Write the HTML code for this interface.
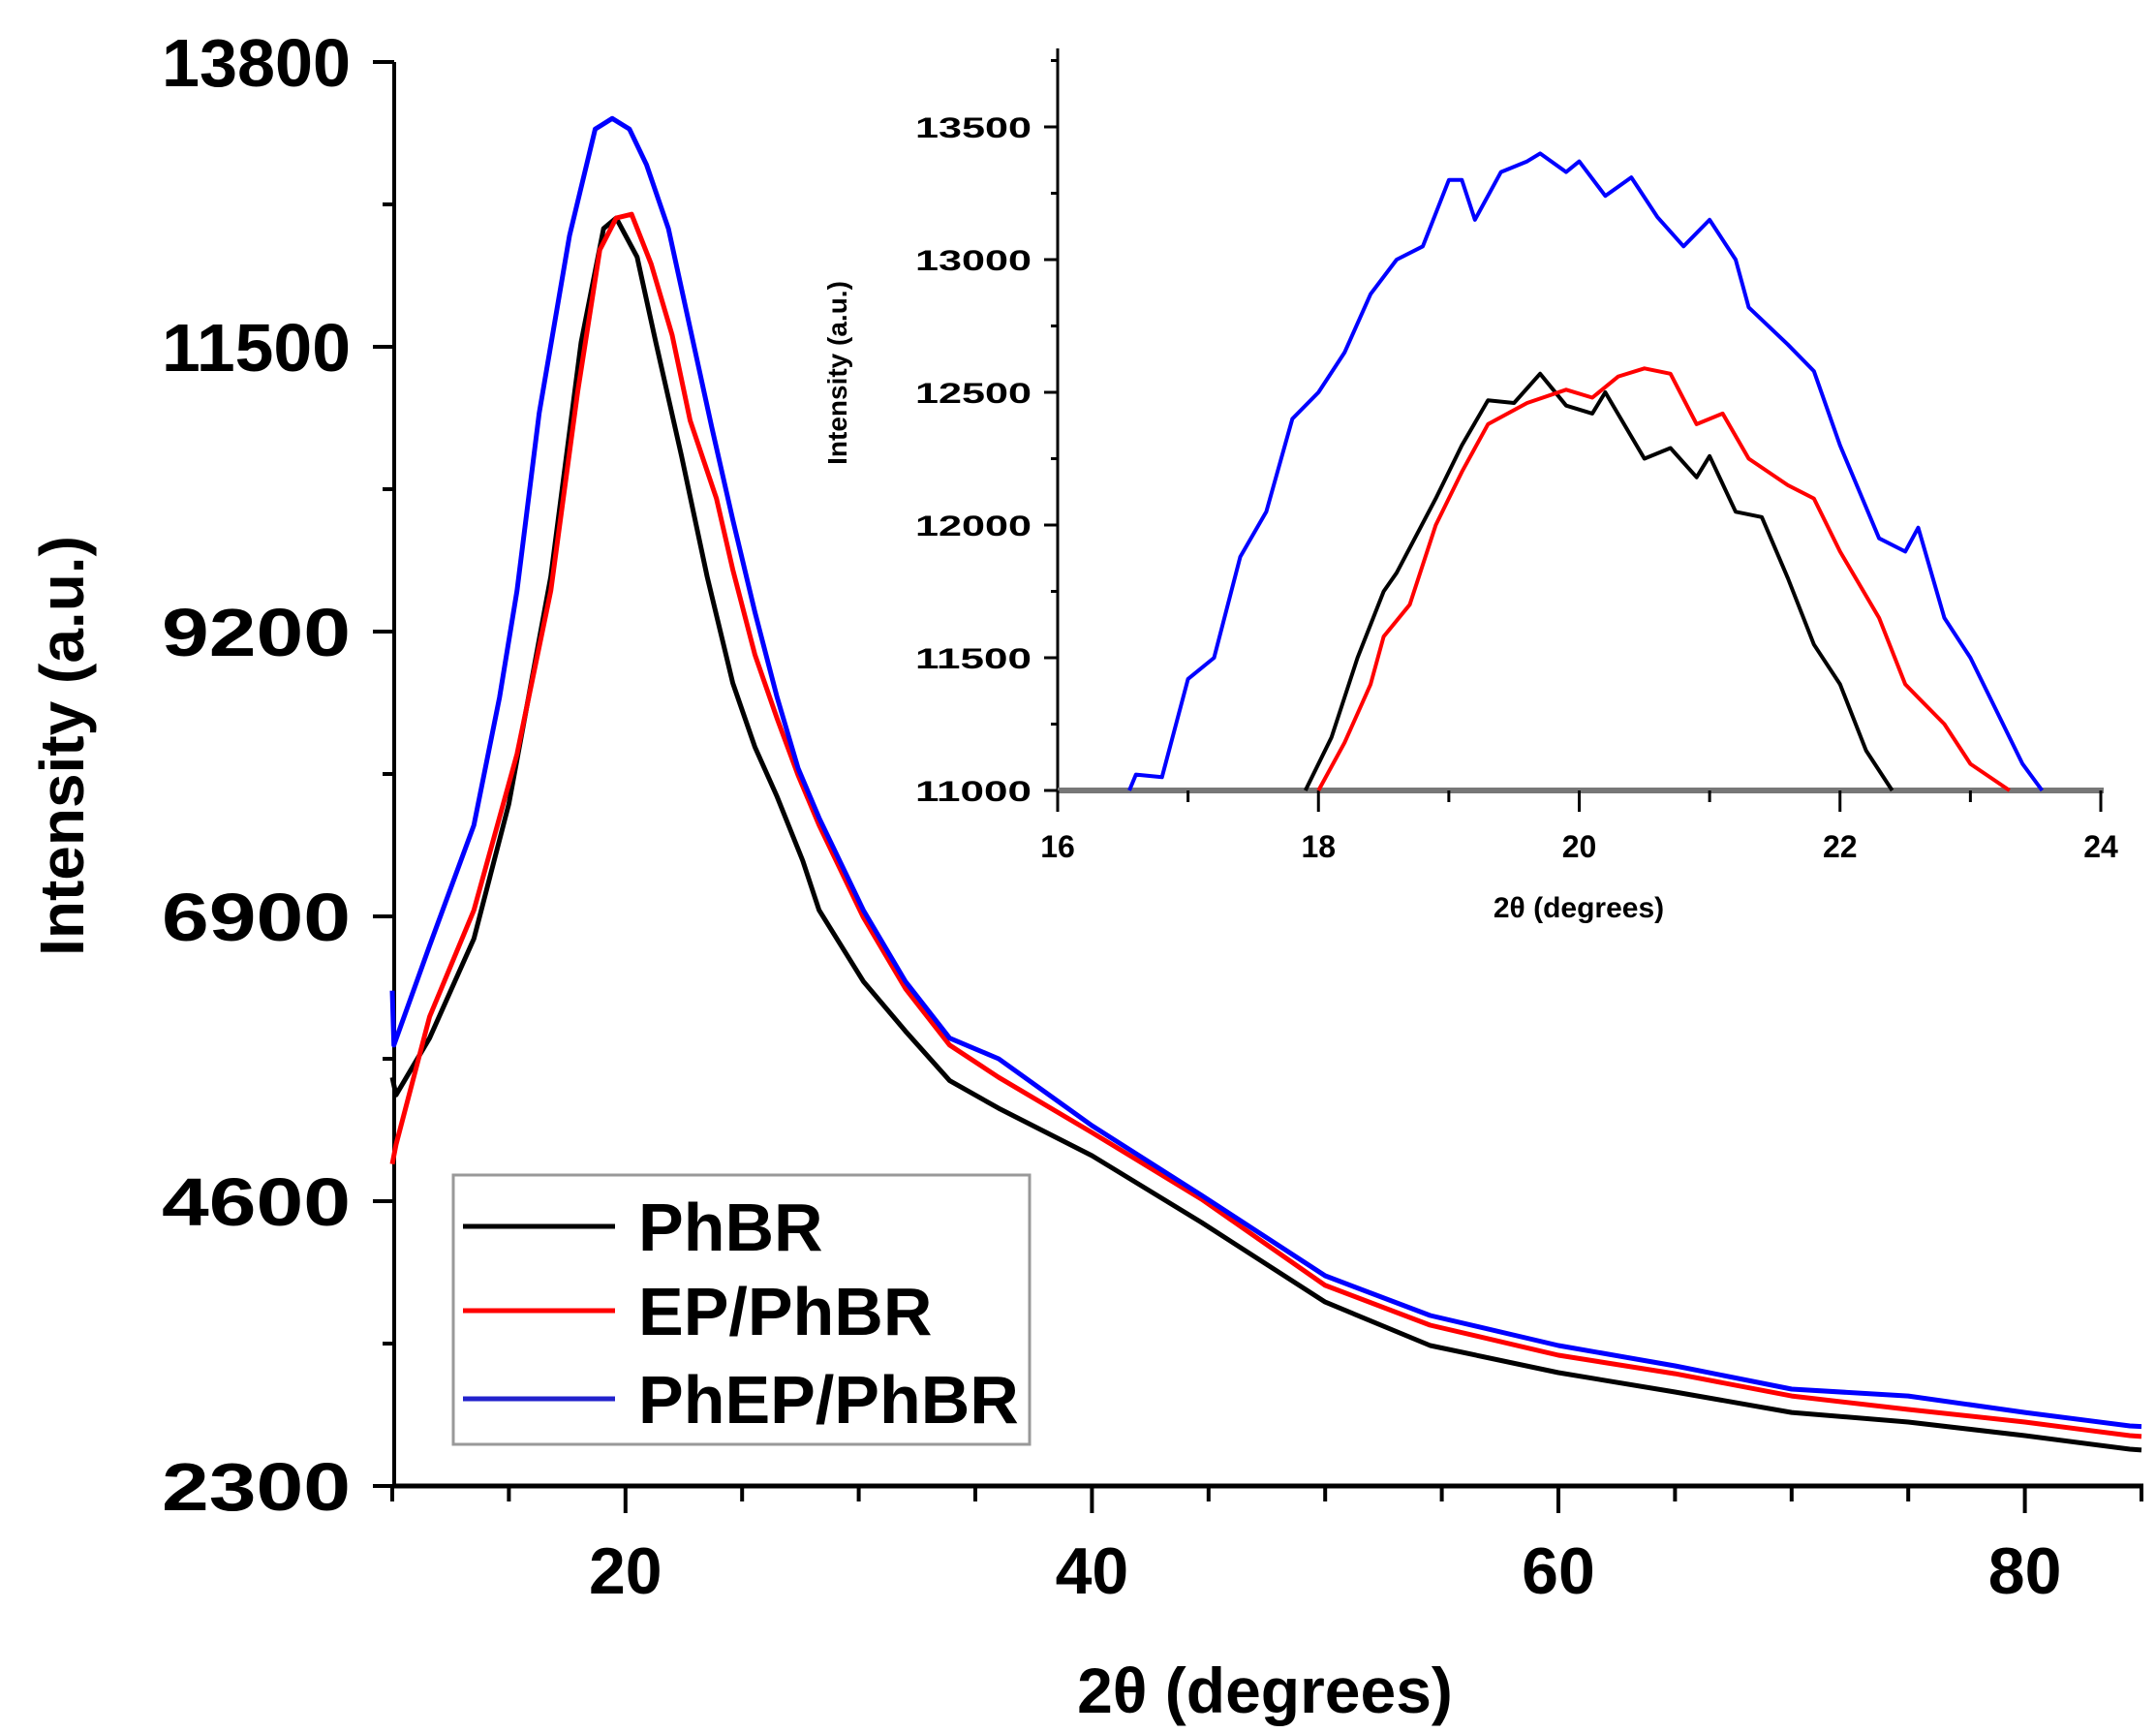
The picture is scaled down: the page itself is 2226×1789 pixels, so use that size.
<!DOCTYPE html>
<html><head><meta charset="utf-8"><style>
html,body{margin:0;padding:0;background:#fff;}
svg{display:block;font-family:"Liberation Sans",Arial,sans-serif;font-weight:bold;}
</style></head><body>
<svg id="chart" width="2226" height="1789" viewBox="0 0 2226 1789" xmlns="http://www.w3.org/2000/svg">
<g id="main"></g>
<g id="inset"></g>
<g id="legend">
<rect x="468" y="1213" width="595" height="278" fill="#fff" stroke="#999" stroke-width="3"/>
<line x1="478" y1="1266" x2="635" y2="1266" stroke="#000" stroke-width="5"/>
<text x="659" y="1291" font-size="70">PhBR</text>
<line x1="478" y1="1353" x2="635" y2="1353" stroke="#f00" stroke-width="5"/>
<text x="659" y="1378" font-size="70">EP/PhBR</text>
<line x1="478" y1="1444" x2="635" y2="1444" stroke="#22c" stroke-width="5"/>
<text x="659" y="1469" font-size="70">PhEP/PhBR</text>
</g>
</svg>
<script>
const mainYTicks=[2300,4600,6900,9200,11500,13800];
const mainXTicks=[20,40,60,80];
const phbrX=[10,10.16,11.6,13.5,15.0,16.8,18.1,19.06,19.6,20.5,21.3,22.4,23.5,24.6,25.55,26.5,27.6,28.3,30.2,32.0,33.9,36,40,44.7,50,54.5,60,65,70,75,80,84.5,85];
const phbrY=[5600,5458,5917,6720,7810,9644,11537,12455,12540,12225,11537,10620,9644,8784,8268,7867,7350,6950,6375,5974,5573,5350,4968,4428,3786,3434,3215,3059,2894,2816,2707,2597,2590];
const epX=[10,10.16,11.6,13.5,15.35,16.8,17.95,18.9,19.6,20.26,21.1,22.0,22.77,23.9,24.6,25.55,26.5,27.4,28.3,30.2,32.0,33.9,36,40,44.7,50,54.5,60,65,70,75,80,84.5,85];
const epY=[4900,5057,6089,6950,8211,9530,11135,12283,12540,12570,12168,11594,10906,10275,9700,9014,8498,8040,7637,6892,6318,5860,5600,5155,4616,3920,3599,3356,3207,3027,2918,2816,2707,2700];
const phepX=[10,10.07,11.6,13.5,14.6,15.35,16.3,17.6,18.7,19.43,20.17,20.9,21.84,22.77,23.7,24.6,25.55,26.5,27.4,28.3,30.2,32.0,33.9,36,40,44.7,50,54.5,60,65,70,75,80,84.5,85];
const phepY=[6300,5860,6662,7637,8670,9530,10964,12397,13258,13344,13258,12970,12455,11652,10849,10103,9358,8670,8096,7695,6950,6375,5917,5750,5210,4647,3998,3677,3434,3270,3082,3027,2894,2785,2780];
const insetYTicks=[11000,11500,12000,12500,13000,13500];
const insetXTicks=[16,18,20,22,24];
const inPhepX=[16.55,16.6,16.8,17.0,17.2,17.4,17.6,17.8,18.0,18.2,18.4,18.6,18.8,19.0,19.1,19.2,19.4,19.6,19.7,19.9,20.0,20.2,20.4,20.6,20.8,21.0,21.2,21.3,21.6,21.8,22.0,22.3,22.5,22.6,22.8,23.0,23.2,23.4,23.55];
const inPhepY=[11000,11060,11050,11420,11500,11880,12050,12400,12500,12650,12870,13000,13050,13300,13300,13150,13330,13370,13400,13330,13370,13240,13310,13160,13050,13150,13000,12820,12680,12580,12300,11950,11900,11990,11650,11500,11300,11100,11000];
const inPhbrX=[17.9,18.1,18.3,18.5,18.6,18.9,19.1,19.3,19.5,19.7,19.9,20.1,20.2,20.5,20.7,20.9,21.0,21.2,21.4,21.6,21.8,22.0,22.2,22.4];
const inPhbrY=[11000,11200,11500,11750,11820,12100,12300,12470,12460,12570,12450,12420,12500,12250,12290,12180,12260,12050,12030,11800,11550,11400,11150,11000];
const inEpX=[18.0,18.2,18.4,18.5,18.7,18.9,19.1,19.3,19.6,19.9,20.1,20.3,20.5,20.7,20.9,21.1,21.3,21.6,21.8,22.0,22.3,22.5,22.6,22.8,23.0,23.3];
const inEpY=[11000,11180,11400,11580,11700,12000,12200,12380,12460,12510,12480,12560,12590,12570,12380,12420,12250,12150,12100,11900,11650,11400,11350,11250,11100,11000];

const NS="http://www.w3.org/2000/svg";
function mk(parent,tag,attrs,name){const e=document.createElementNS(NS,tag);for(const k in attrs)e.setAttribute(k,attrs[k]);


parent.appendChild(e);return e;}
function path(xs,ys,sx,sy){return xs.map((v,i)=>(i?'L':'M')+sx(v).toFixed(1)+','+sy(ys[i]).toFixed(1)).join('');}

// main
const M=document.getElementById('main');
const mx=v=>405+(v-10)*(2211-405)/75;
const my=v=>1534-(v-2300)*(1534-64)/11500;
mk(M,'line',{x1:407,y1:64,x2:407,y2:1534,stroke:'#000','stroke-width':4},'y-axis');
mk(M,'line',{x1:405,y1:1534,x2:2213,y2:1534,stroke:'#000','stroke-width':5},'x-axis');
for(let v=2300;v<=13800;v+=1150){const major=mainYTicks.includes(v);
mk(M,'line',{x1:major?385:395,y1:my(v),x2:407,y2:my(v),stroke:'#000','stroke-width':4},'y-tick');}
mainYTicks.forEach(v=>{const t=mk(M,'text',{x:362,y:my(v)+25,'font-size':70,'text-anchor':'end',textLength:195,lengthAdjust:'spacingAndGlyphs'},'y-tick-label');t.textContent=v;});
for(let v=10;v<=85;v+=5){const major=mainXTicks.includes(v);
mk(M,'line',{x1:mx(v),y1:1534,x2:mx(v),y2:major?1562:1550,stroke:'#000','stroke-width':4},'x-tick');}
mainXTicks.forEach(v=>{const t=mk(M,'text',{x:mx(v),y:1645,'font-size':68,'text-anchor':'middle'},'x-tick-label');t.textContent=v;});
let t=mk(M,'text',{x:1306,y:1768,'font-size':66,'text-anchor':'middle'},'x-axis-title');t.textContent='2θ (degrees)';
t=mk(M,'text',{x:0,y:0,'font-size':64,'text-anchor':'middle',transform:'translate(86,770) rotate(-90)'},'y-axis-title');t.textContent='Intensity (a.u.)';
mk(M,'path',{d:path(phbrX,phbrY,mx,my),fill:'none',stroke:'#000','stroke-width':5,'stroke-linejoin':'round'},'series-phbr');
mk(M,'path',{d:path(epX,epY,mx,my),fill:'none',stroke:'#f00','stroke-width':5,'stroke-linejoin':'round'},'series-ep-phbr');
mk(M,'path',{d:path(phepX,phepY,mx,my),fill:'none',stroke:'#00f','stroke-width':5,'stroke-linejoin':'round'},'series-phep-phbr');

// inset
const I=document.getElementById('inset');
const ix=v=>1092+(v-16)*(2169-1092)/8;
const iy=v=>816-(v-11000)*(816-131)/2500;
mk(I,'line',{x1:1092,y1:50,x2:1092,y2:816,stroke:'#000','stroke-width':3},'inset-y-axis');
mk(I,'line',{x1:1092,y1:816,x2:2172,y2:816,stroke:'#777','stroke-width':6},'inset-x-axis');
for(let v=11000;v<=13750;v+=250){const major=insetYTicks.includes(v);
mk(I,'line',{x1:major?1078:1085,y1:iy(v),x2:1092,y2:iy(v),stroke:'#000','stroke-width':3},'inset-y-tick');}
insetYTicks.forEach(v=>{const t=mk(I,'text',{x:1065,y:iy(v)+11,'font-size':30,'text-anchor':'end',textLength:120,lengthAdjust:'spacingAndGlyphs'},'inset-y-tick-label');t.textContent=v;});
for(let v=16;v<=24;v+=1){const major=insetXTicks.includes(v);
mk(I,'line',{x1:ix(v),y1:816,x2:ix(v),y2:major?838:828,stroke:'#000','stroke-width':3},'inset-x-tick');}
insetXTicks.forEach(v=>{const t=mk(I,'text',{x:ix(v),y:885,'font-size':32,'text-anchor':'middle'},'inset-x-tick-label');t.textContent=v;});
t=mk(I,'text',{x:1630,y:947,'font-size':30,'text-anchor':'middle'},'inset-x-axis-title');t.textContent='2θ (degrees)';
t=mk(I,'text',{x:0,y:0,'font-size':28,'text-anchor':'middle',transform:'translate(874,385) rotate(-90)'},'inset-y-axis-title');t.textContent='Intensity (a.u.)';
mk(I,'path',{d:path(inPhepX,inPhepY,ix,iy),fill:'none',stroke:'#00f','stroke-width':4,'stroke-linejoin':'round'},'inset-series-phep-phbr');
mk(I,'path',{d:path(inPhbrX,inPhbrY,ix,iy),fill:'none',stroke:'#000','stroke-width':4,'stroke-linejoin':'round'},'inset-series-phbr');
mk(I,'path',{d:path(inEpX,inEpY,ix,iy),fill:'none',stroke:'#f00','stroke-width':4,'stroke-linejoin':'round'},'inset-series-ep-phbr');
</script>
</body></html>
